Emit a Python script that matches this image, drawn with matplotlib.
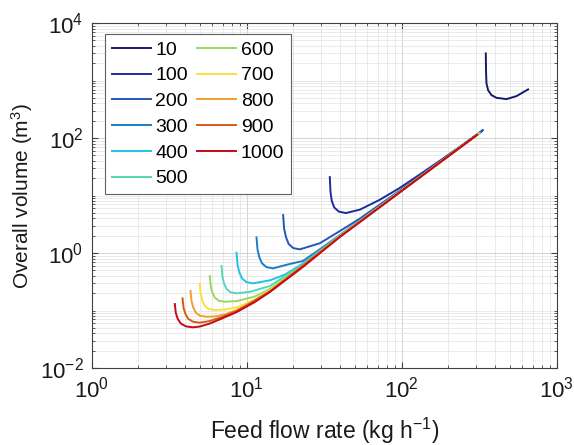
import matplotlib
matplotlib.use("Agg")
import matplotlib.pyplot as plt
from matplotlib.ticker import LogLocator, NullFormatter

plt.rcParams['font.family'] = ['Liberation Sans', 'DejaVu Sans']
plt.rcParams['mathtext.default'] = 'regular'

labels = ['10', '100', '200', '300', '400', '500', '600', '700', '800', '900', '1000']

flow_10 = [348.2, 349.8, 351.9, 360.4, 379.0, 408.3, 473.7, 549.5, 652.8]
vol_10 = [2972, 1350, 894, 683.4, 559.6, 502.1, 476.8, 537.6, 703.1]

flow_100 = [34.31, 34.67, 35.35, 36.69, 39.22, 43.52, 53.58, 72.13, 97.07, 130.7, 175.9, 236.7, 333.1]
vol_100 = [20.97, 11.51, 8.022, 6.183, 5.269, 4.963, 5.686, 8.453, 13.61, 23.28, 40.29, 70.59, 137.8]

flow_200 = [17.15, 17.40, 17.88, 18.61, 19.90, 21.98, 29.58, 39.81, 53.58, 97.07, 328.1]
vol_200 = [4.580, 2.678, 1.898, 1.445, 1.222, 1.160, 1.480, 2.413, 3.966, 12.22, 130.8]

flow_300 = [11.55, 11.72, 12.04, 12.53, 13.40, 14.78, 18.94, 22.98, 29.58, 39.81, 72.13, 323.3]
vol_300 = [1.875, 1.155, 0.8485, 0.6622, 0.5685, 0.5418, 0.6464, 0.7259, 1.164, 2.056, 6.567, 127.2]

flow_400 = [8.579, 8.710, 8.945, 9.311, 9.956, 10.98, 14.08, 17.59, 22.98, 39.81, 318.6]
vol_400 = [1.012, 0.6285, 0.4616, 0.3618, 0.3118, 0.2972, 0.3351, 0.4210, 0.6569, 2.015, 123.1]

flow_500 = [6.868, 6.960, 7.127, 7.397, 7.850, 8.579, 10.46, 14.08, 22.98, 39.81, 316.2]
vol_500 = [0.5941, 0.3887, 0.2948, 0.2376, 0.2081, 0.1991, 0.2114, 0.2668, 0.6310, 1.991, 121.2]

flow_600 = [5.772, 5.849, 5.990, 6.216, 6.598, 7.213, 8.619, 11.26, 14.08, 22.98, 39.81, 313.9]
vol_600 = [0.3981, 0.2668, 0.2064, 0.1676, 0.1481, 0.1422, 0.1463, 0.1751, 0.2366, 0.6063, 1.967, 119.8]

flow_700 = [4.975, 5.042, 5.163, 5.358, 5.686, 6.216, 7.213, 8.619, 11.26, 14.08, 22.98, 39.81, 311.5]
vol_700 = [0.2890, 0.1929, 0.1487, 0.1207, 0.1062, 0.1020, 0.1045, 0.1128, 0.1553, 0.2228, 0.5919, 1.952, 117.8]

flow_800 = [4.333, 4.397, 4.510, 4.688, 4.997, 5.495, 6.216, 7.213, 8.619, 11.26, 14.08, 22.98, 39.81, 309.3]
vol_800 = [0.2184, 0.1463, 0.1132, 0.0919, 0.0812, 0.0780, 0.0787, 0.0855, 0.1020, 0.1475, 0.2167, 0.5848, 1.944, 116.0]

flow_900 = [3.848, 3.905, 4.017, 4.187, 4.490, 4.975, 5.772, 6.898, 8.619, 14.08, 39.81, 306.9]
vol_900 = [0.1630, 0.1114, 0.0873, 0.0717, 0.0639, 0.0614, 0.0657, 0.0771, 0.0982, 0.2149, 1.936, 114.6]

flow_1000 = [3.431, 3.482, 3.587, 3.751, 4.041, 4.483, 4.975, 5.772, 6.898, 8.619, 11.26, 14.08, 22.98, 39.81, 304.7]
vol_1000 = [0.1297, 0.0905, 0.0712, 0.0594, 0.0531, 0.0510, 0.0527, 0.0594, 0.0726, 0.0942, 0.1405, 0.2098, 0.5709, 1.898, 112.8]

flows = [flow_10, flow_100, flow_200, flow_300, flow_400, flow_500,
         flow_600, flow_700, flow_800, flow_900, flow_1000]
vols = [vol_10, vol_100, vol_200, vol_300, vol_400, vol_500,
        vol_600, vol_700, vol_800, vol_900, vol_1000]

colors = ['#161a6a', '#1c2c9c', '#2456b6', '#1a7cc8', '#20c2e8', '#52d8b6',
          '#9ad85c', '#f8e040', '#f0a030', '#d65a18', '#c40a16']

fig = plt.figure(figsize=(5.74, 4.45), dpi=100)
ax = fig.add_axes([0.160, 0.173, 0.810, 0.775])

for f, v, c, lab in zip(flows, vols, colors, labels):
    ax.plot(f, v, color=c, lw=1.4, label=lab)

ax.set_xscale('log')
ax.set_yscale('log')
ax.set_xlim(1, 1000)
ax.set_ylim(1e-2, 1e4)
ax.set_xticks([1, 10, 100, 1000])
ax.set_yticks([1e-2, 1e0, 1e2, 1e4])
ax.xaxis.set_minor_locator(LogLocator(base=10, subs=range(1, 10), numticks=20))
ax.yaxis.set_minor_locator(LogLocator(base=10, subs=range(1, 10), numticks=20))
ax.xaxis.set_minor_formatter(NullFormatter())
ax.yaxis.set_minor_formatter(NullFormatter())

ax.grid(True, which='major', color='#cccccc', lw=0.6)
ax.grid(True, which='minor', color='#e2e2e2', lw=0.5)
ax.set_axisbelow(True)

ax.tick_params(which='both', direction='in', top=True, right=True, colors='#404040',
               labelcolor='#1a1a1a')
ax.tick_params(which='major', length=4, labelsize=16, pad=6)
ax.tick_params(which='minor', length=2)
for s in ax.spines.values():
    s.set_color('#404040')
    s.set_linewidth(0.8)

ax.set_xlabel('Feed flow rate (kg h$^{-1}$)', fontsize=16.5, color='#1a1a1a', labelpad=10)
ax.set_ylabel('Overall volume (m$^{3}$)', fontsize=15, color='#1a1a1a', labelpad=3)

leg = ax.legend(ncol=2, loc='upper left', bbox_to_anchor=(0.028, 0.968), fontsize=14,
                frameon=True, fancybox=False, handlelength=2.0, handletextpad=0.25,
                columnspacing=0.45, labelspacing=0.42, borderpad=0.35, borderaxespad=0.0)
leg.get_frame().set_edgecolor('#606060')
leg.get_frame().set_linewidth(0.8)
leg.get_frame().set_alpha(1)

fig.savefig('out.png', dpi=100)
